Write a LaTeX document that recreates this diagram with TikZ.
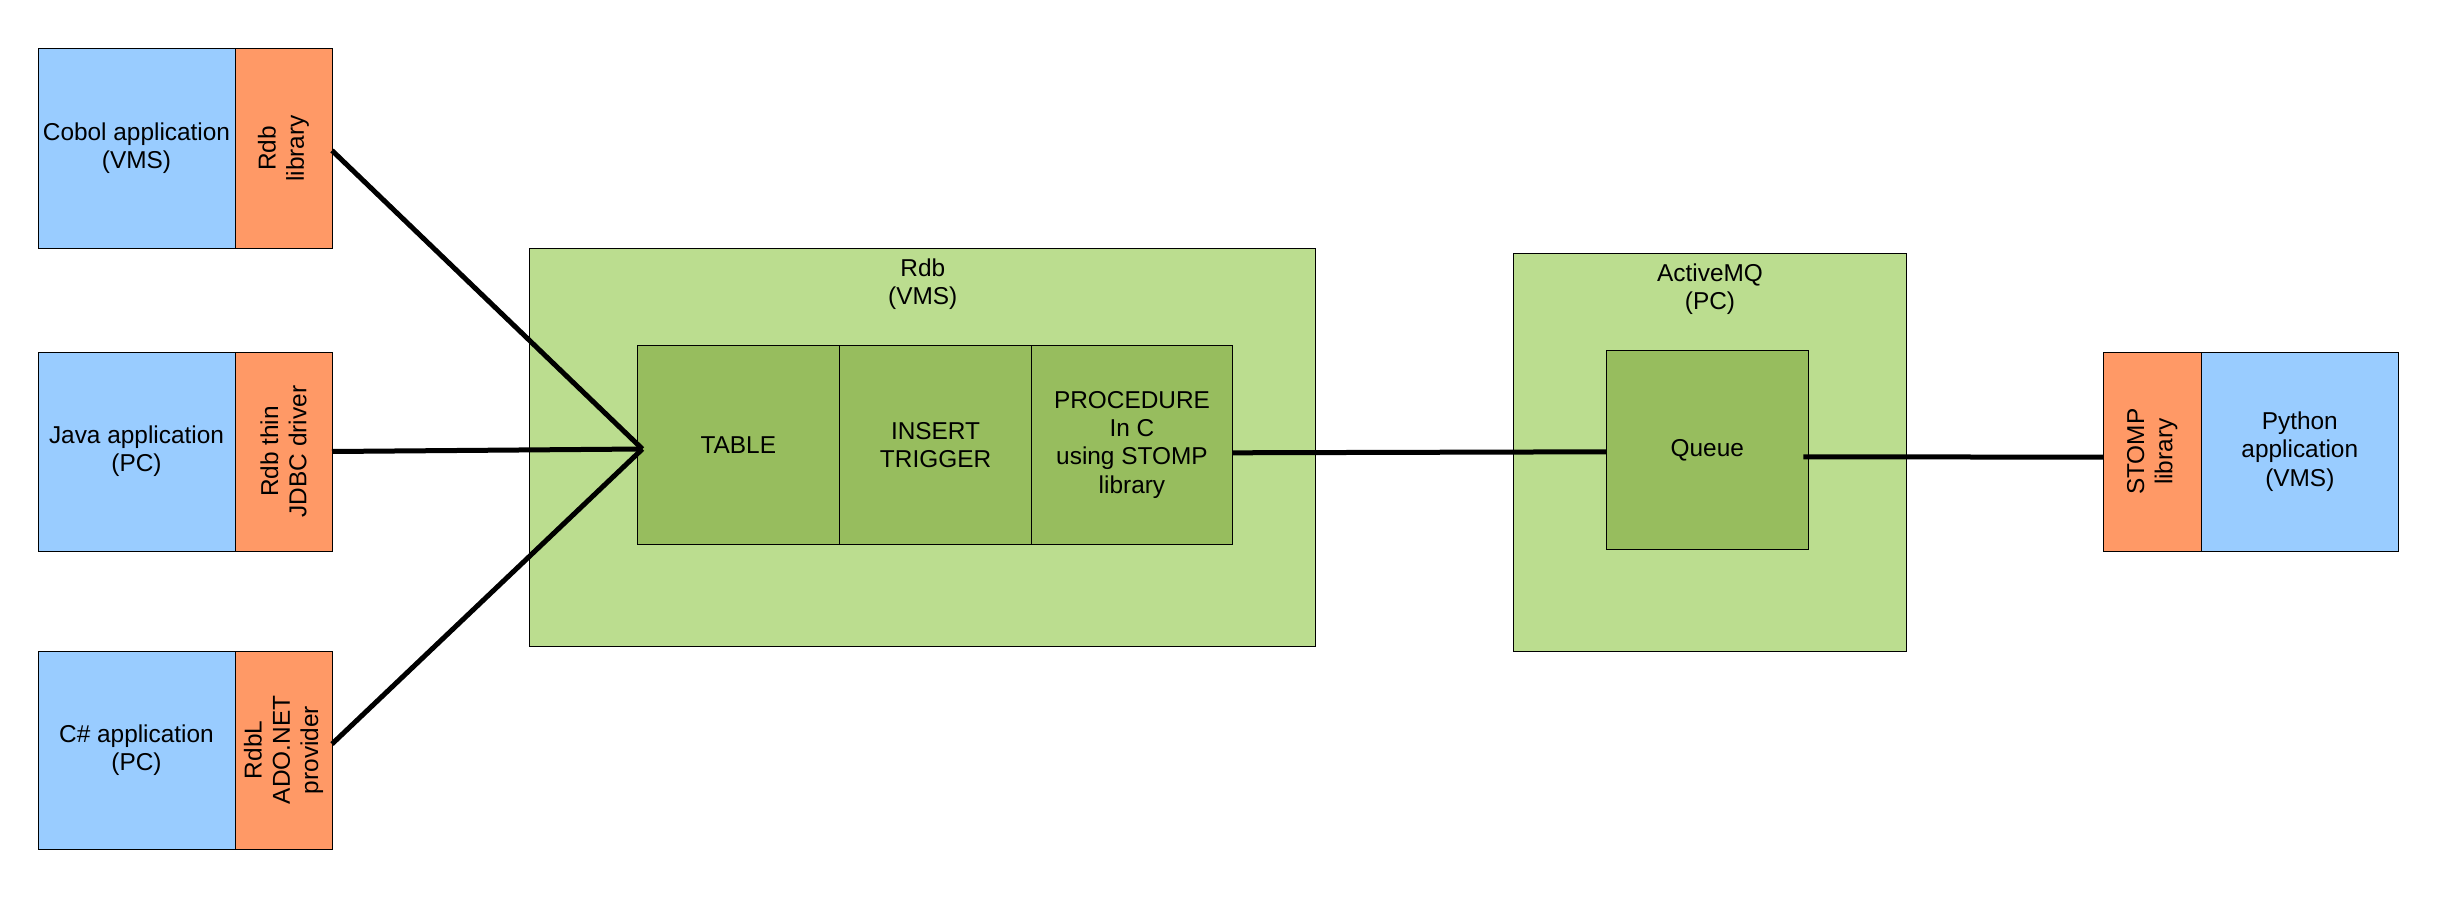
\documentclass[tikz,border=0pt]{standalone}
\usepackage{fontspec}
\setmainfont{Liberation Sans}
\definecolor{appblue}{HTML}{99CCFF}
\definecolor{liborange}{HTML}{FF9966}
\definecolor{lightgrn}{HTML}{BBDD8F}
\definecolor{darkgrn}{HTML}{97BD5E}
\tikzset{
  box/.style={draw=black, line width=1pt, rectangle, anchor=north west, inner sep=0pt, outer sep=0pt, align=center, font=\fontsize{24.4}{28.3}\selectfont},
  appbox/.style={box, fill=appblue},
  libbox/.style={box, fill=liborange},
  outerbox/.style={box, fill=lightgrn},
  innerbox/.style={box, fill=darkgrn},
  txt/.style={align=center, inner sep=0pt, font=\fontsize{24.4}{28.3}\selectfont},
  rottxt/.style={txt, rotate=90},
  conn/.style={draw=black, line width=5pt}
}
\begin{document}
\begin{tikzpicture}[x=1pt,y=-1pt]
\useasboundingbox (0,0) rectangle (2449,907);
% left applications
\node[appbox, minimum width=197pt, minimum height=199pt] (cob) at (38,49) {Cobol application\\(VMS)};
\node[libbox, minimum width=97pt, minimum height=199pt] (cobL) at (235,49) {};
\node[rottxt] (cobLt) at (cobL.center) {Rdb\\library};
\node[appbox, minimum width=197pt, minimum height=199pt] (java) at (38,352) {Java application\\(PC)};
\node[libbox, minimum width=97pt, minimum height=199pt] (javaL) at (235,352) {};
\node[rottxt] (javaLt) at (javaL.center) {Rdb thin\\JDBC driver};
\node[appbox, minimum width=197pt, minimum height=198pt] (cs) at (38,651) {C\# application\\(PC)};
\node[libbox, minimum width=97pt, minimum height=198pt] (csL) at (235,651) {};
\node[rottxt] (csLt) at (csL.center) {RdbL\\ADO.NET\\provider};
% Rdb
\node[outerbox, minimum width=786pt, minimum height=398pt] (rdb) at (529.7,248.3) {};
\node[txt] (rdbT) at (922.8,284) {Rdb\\(VMS)};
\node[innerbox, minimum width=202pt, minimum height=199pt] (table) at (637.3,345.3) {TABLE};
\node[innerbox, minimum width=192.3pt, minimum height=199pt] (trig) at (839.4,345.3) {INSERT\\TRIGGER};
\node[innerbox, minimum width=200.5pt, minimum height=199pt] (proc) at (1031.7,345.3) {PROCEDURE\\In C\\using STOMP\\library};
% ActiveMQ
\node[outerbox, minimum width=393.4pt, minimum height=397.3pt] (amq) at (1513.3,253.7) {};
\node[txt] (amqT) at (1710,289) {ActiveMQ\\(PC)};
\node[innerbox, minimum width=202pt, minimum height=199pt] (queue) at (1606.3,350.3) {Queue};
% Python
\node[libbox, minimum width=98pt, minimum height=198.7pt] (stomp) at (2103.3,352.3) {};
\node[rottxt] (stompT) at (stomp.center) {STOMP\\library};
\node[appbox, minimum width=197pt, minimum height=198.7pt] (py) at (2201.3,352.3) {Python\\application\\(VMS)};
% connectors
\coordinate (conv) at (642.4,449);
\draw[conn] ([yshift=-2pt]cobL.east) -- (conv);
\draw[conn] (javaL.east) -- (conv);
\draw[conn] ([yshift=6pt]csL.east) -- (conv);
\draw[conn] ([yshift=-8pt]proc.east) -- ([yshift=-2pt]queue.west);
\draw[conn] ([xshift=-5pt,yshift=-7pt]queue.east) -- ([yshift=-5.5pt]stomp.west);
\end{tikzpicture}
\end{document}
